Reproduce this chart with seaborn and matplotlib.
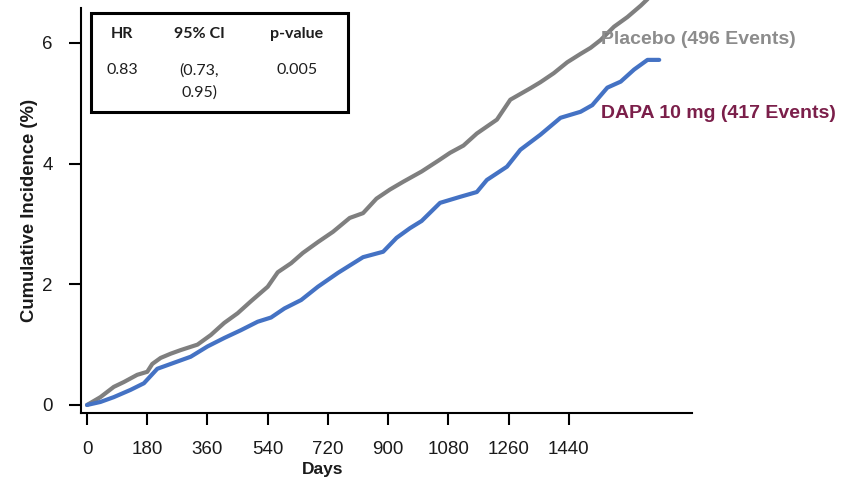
import matplotlib
matplotlib.use("Agg")
import matplotlib.pyplot as plt
import seaborn as sns
import pandas as pd
from matplotlib.patches import Rectangle

# Cumulative incidence curves (days, %)
placebo_days = [0, 40, 80, 110, 150, 180, 195, 220, 250, 280, 330, 370, 410, 450,
                490, 540, 570, 610, 645, 690, 735, 785, 825, 865, 905, 945, 1000,
                1050, 1085, 1125, 1165, 1225, 1265, 1325, 1355, 1395, 1435, 1475,
                1505, 1535, 1575, 1615, 1655, 1685]
placebo_inc = [0.0, 0.13, 0.30, 0.38, 0.50, 0.55, 0.68, 0.78, 0.85, 0.91, 1.00, 1.16,
               1.36, 1.52, 1.72, 1.96, 2.20, 2.35, 2.52, 2.70, 2.87, 3.10, 3.18, 3.42,
               3.57, 3.70, 3.87, 4.05, 4.18, 4.30, 4.50, 4.73, 5.06, 5.25, 5.35, 5.50,
               5.68, 5.82, 5.92, 6.05, 6.27, 6.43, 6.62, 6.78]

dapa_days = [0, 40, 80, 130, 170, 185, 210, 260, 310, 360, 410, 460, 510, 550, 590,
             640, 690, 750, 825, 885, 925, 965, 1000, 1055, 1115, 1165, 1195, 1255,
             1295, 1355, 1415, 1475, 1510, 1555, 1595, 1635, 1675, 1710]
dapa_inc = [0.0, 0.05, 0.13, 0.25, 0.36, 0.45, 0.60, 0.70, 0.80, 0.97, 1.11, 1.24,
            1.38, 1.45, 1.60, 1.74, 1.96, 2.19, 2.45, 2.54, 2.77, 2.93, 3.05, 3.35,
            3.45, 3.53, 3.73, 3.95, 4.23, 4.48, 4.76, 4.86, 4.97, 5.26, 5.36, 5.56,
            5.72, 5.72]

arm_names = ["Placebo", "DAPA 10 mg"]
arm_events = [496, 417]
arm_colors = ["#7f7f7f", "#4472c4"]
label_colors = ["#8c8c8c", "#7b1f4a"]

x_ticks = [0, 180, 360, 540, 720, 900, 1080, 1260, 1440]
y_ticks = [0, 2, 4, 6]

table_header = ["HR", "95% CI", "p-value"]
table_values = ["0.83", "(0.73,\n0.95)", "0.005"]

df = pd.concat([
    pd.DataFrame({"Days": placebo_days, "Incidence": placebo_inc, "Arm": arm_names[0]}),
    pd.DataFrame({"Days": dapa_days, "Incidence": dapa_inc, "Arm": arm_names[1]}),
], ignore_index=True)

sns.set_style("white")
plt.rcParams["font.family"] = ["Liberation Sans", "DejaVu Sans"]

fig = plt.figure(figsize=(8.48, 4.83), dpi=100)
W, H = 848, 483
ax = fig.add_axes([81 / W, 70 / H, 611 / W, 405 / H])

sns.lineplot(data=df, x="Days", y="Incidence", hue="Arm", hue_order=arm_names,
             palette=arm_colors, linewidth=3.0, legend=False, ax=ax,
             estimator=None, sort=False)
for line in ax.lines:
    line.set_clip_on(False)

ax.set_xlim(-18, 1808)
ax.set_ylim(-0.133, 6.58)
ax.set_xticks(x_ticks)
ax.set_xticklabels([str(t) for t in x_ticks])
ax.set_yticks(y_ticks)
ax.set_yticklabels([str(t) for t in y_ticks])

for side in ["top", "right"]:
    ax.spines[side].set_visible(False)
for side in ["left", "bottom"]:
    ax.spines[side].set_linewidth(1.5)
    ax.spines[side].set_color("black")

ax.tick_params(axis="both", direction="out", length=8.5, width=1.5, color="black",
               labelsize=13.5, labelcolor="#1a1a1a", bottom=True, left=True)
ax.tick_params(axis="x", pad=12)
ax.tick_params(axis="y", pad=12)

ax.set_xlabel("Days", fontsize=12.5, fontweight="bold", color="#1a1a1a")
ax.xaxis.set_label_coords(0.395, -0.121)
ax.xaxis.label.set_va("top")
ax.set_ylabel("Cumulative Incidence (%)", fontsize=13.3, fontweight="bold",
              color="#1a1a1a")
ax.yaxis.set_label_coords(-0.071, 0.5)

# Arm labels beside the curve ends
label_x = 1536
label_y = [6.06, 4.83]
for name, n, col, yv in zip(arm_names, arm_events, label_colors, label_y):
    ax.text(label_x, yv, f"{name} ({n} Events)", color=col, fontsize=14,
            fontweight="bold", ha="left", va="center", clip_on=False)

# Hazard ratio summary box
box = Rectangle((91 / W, 1 - 112 / H), (348 - 91) / W, (112 - 13) / H,
                transform=fig.transFigure, fill=True, facecolor="white",
                edgecolor="black", linewidth=2.2, zorder=5)
fig.add_artist(box)
col_x = [122, 199, 297]
for cx, head, val in zip(col_x, table_header, table_values):
    fig.text(cx / W, 1 - 34 / H, head, ha="center", va="center", fontsize=11.5,
             fontweight="bold", family=["Lato", "DejaVu Sans"], color="#1e1e1e",
             zorder=6)
    fig.text(cx / W, 1 - 63 / H, val, ha="center", va="top", fontsize=11.5,
             family=["Lato", "DejaVu Sans"], color="#1e1e1e", zorder=6,
             linespacing=1.75)

fig.savefig("out.png", dpi=100)
